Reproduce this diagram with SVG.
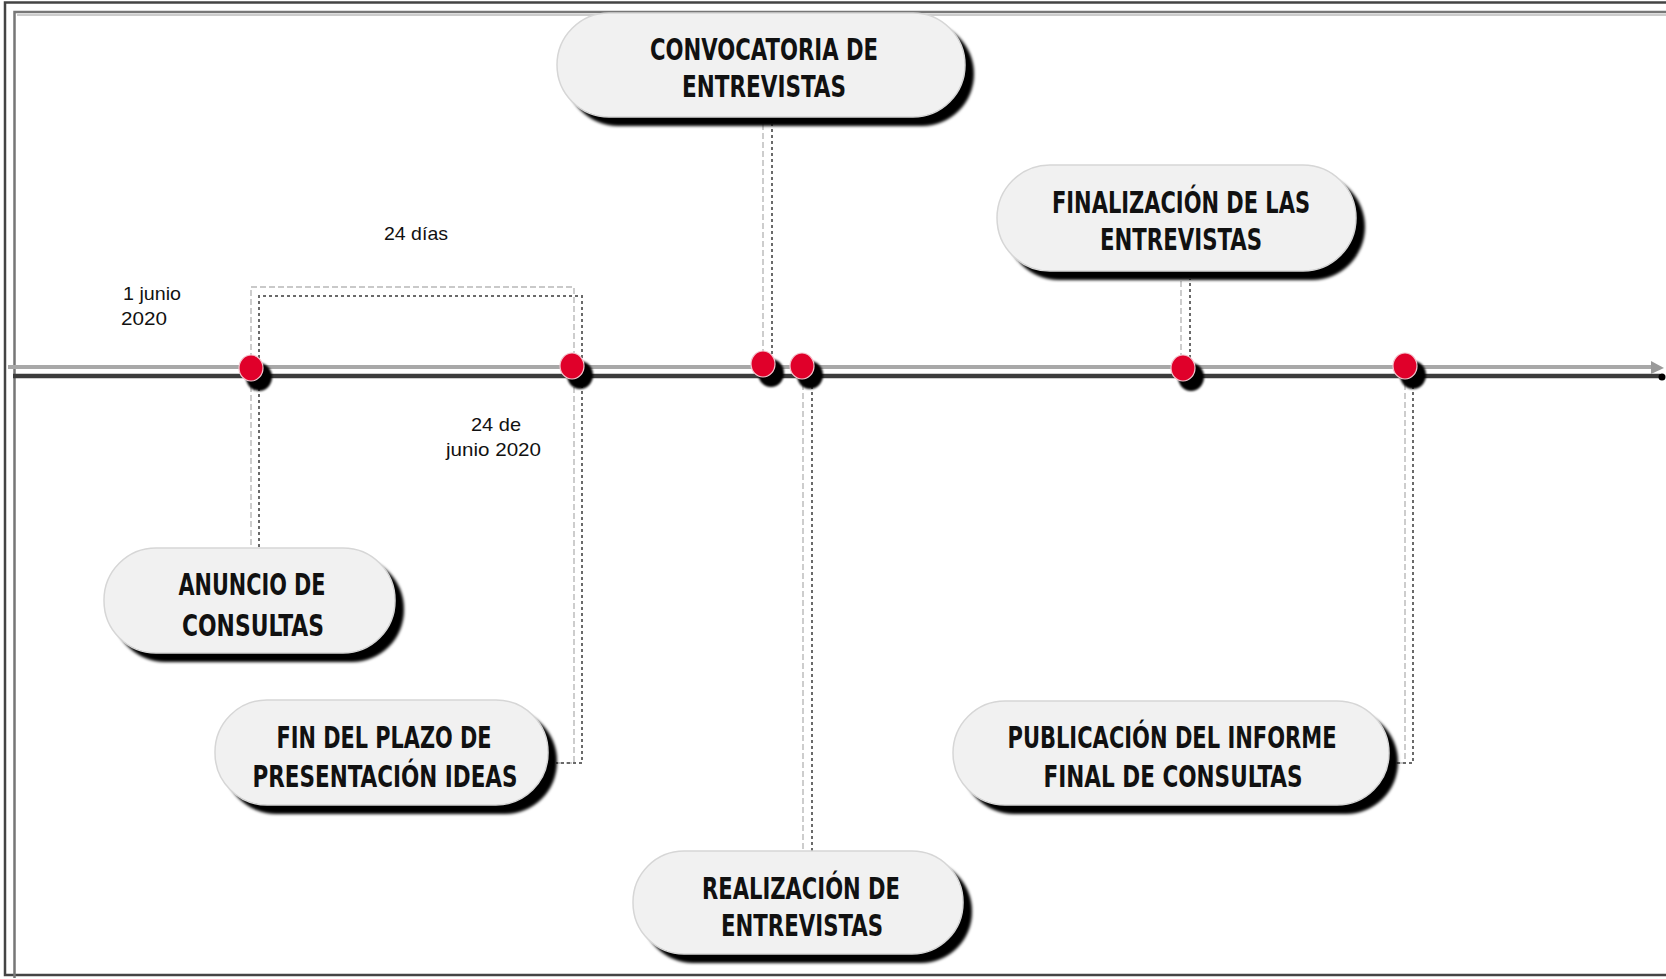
<svg xmlns="http://www.w3.org/2000/svg" width="1666" height="979" viewBox="0 0 1666 979">
<defs>
<filter id="blur" x="-20%" y="-20%" width="140%" height="140%"><feGaussianBlur stdDeviation="1.5"/></filter>
<filter id="blur2" x="-50%" y="-50%" width="200%" height="200%"><feGaussianBlur stdDeviation="1"/></filter>
</defs>
<style>
.pill{fill:#f1f1f1;stroke:#d6d6d6;stroke-width:1.5}
.shadow{fill:#000;filter:url(#blur)}
.t{font-family:"Liberation Sans Narrow","DejaVu Sans Condensed","Liberation Sans",sans-serif;font-weight:bold;font-size:31px;fill:#111;text-anchor:middle}
.s{font-family:"Liberation Sans Narrow","Liberation Sans",sans-serif;font-size:19px;fill:#111}
.dot{fill:#e0002a;stroke:#f3c6cf;stroke-width:1.2}
.dsh{fill:#000;filter:url(#blur2)}
.cl{fill:none;stroke:#b8b8b8;stroke-width:1.4;stroke-dasharray:6 3}
.cd{fill:none;stroke:#6a6a6a;stroke-width:2;stroke-dasharray:3 3}
</style>
<rect width="1666" height="979" fill="#fff"/>
<g id="frame">
<path d="M1666,2.5 H5 V975 H1666" fill="none" stroke="#444" stroke-width="2.5"/>
<path d="M1666,12 H14.5 V978" fill="none" stroke="#777" stroke-width="2.5"/>
<path d="M1666,15 H17" fill="none" stroke="#ccc" stroke-width="2"/>
</g>
<g id="timeline">
<line x1="8" y1="367" x2="1656" y2="367" stroke="#a8a8a8" stroke-width="4"/>
<line x1="13" y1="376" x2="1660" y2="376" stroke="#3c3c3c" stroke-width="4.5"/>
<polygon points="1651,361 1664,368 1651,374" fill="#9a9a9a"/>
<circle cx="1662" cy="377" r="3.5" fill="#000"/>
</g>
<g id="connectors">
<path class="cl" d="M251,368 V287 H574 V763 H556"/>
<path class="cd" d="M259,376 V296 H582 V763 H556"/>
<path class="cl" d="M251,368 V548"/>
<path class="cd" d="M259,376 V548"/>
<path class="cl" d="M763,364 V118"/>
<path class="cd" d="M772,372 V124"/>
<path class="cl" d="M803,366 V851"/>
<path class="cd" d="M812,374 V851"/>
<path class="cl" d="M1181,368 V272"/>
<path class="cd" d="M1190,376 V279"/>
<path class="cl" d="M1405,366 V763 H1392"/>
<path class="cd" d="M1413,374 V763 H1392"/>
</g>
<g id="dots">
<ellipse class="dsh" cx="259" cy="377" rx="13" ry="14"/>
<ellipse class="dot" cx="251" cy="368" rx="12" ry="13"/>
<ellipse class="dsh" cx="580" cy="375" rx="13" ry="14"/>
<ellipse class="dot" cx="572" cy="366" rx="12" ry="13"/>
<ellipse class="dsh" cx="771" cy="373" rx="13" ry="14"/>
<ellipse class="dot" cx="763" cy="364" rx="12" ry="13"/>
<ellipse class="dsh" cx="810" cy="375" rx="13" ry="14"/>
<ellipse class="dot" cx="802" cy="366" rx="12" ry="13"/>
<ellipse class="dsh" cx="1191" cy="377" rx="13" ry="14"/>
<ellipse class="dot" cx="1183" cy="368" rx="12" ry="13"/>
<ellipse class="dsh" cx="1413" cy="375" rx="13" ry="14"/>
<ellipse class="dot" cx="1405" cy="366" rx="12" ry="13"/>
</g>
<g id="n-convocatoria">
<rect class="shadow" x="566" y="22" width="408" height="104" rx="52"/>
<rect class="pill" x="557" y="13" width="408" height="104" rx="52"/>
<text class="t" x="764" y="60" textLength="228" lengthAdjust="spacingAndGlyphs">CONVOCATORIA DE</text>
<text class="t" x="764" y="97" textLength="164" lengthAdjust="spacingAndGlyphs">ENTREVISTAS</text>
</g>
<g id="n-finalizacion">
<rect class="shadow" x="1006" y="174" width="359" height="106" rx="53"/>
<rect class="pill" x="997" y="165" width="359" height="106" rx="53"/>
<text class="t" x="1181" y="213" textLength="258" lengthAdjust="spacingAndGlyphs">FINALIZACIÓN DE LAS</text>
<text class="t" x="1181" y="250" textLength="162" lengthAdjust="spacingAndGlyphs">ENTREVISTAS</text>
</g>
<g id="n-anuncio">
<rect class="shadow" x="113" y="557" width="291" height="105" rx="52"/>
<rect class="pill" x="104" y="548" width="291" height="105" rx="52"/>
<text class="t" x="252" y="595" textLength="147" lengthAdjust="spacingAndGlyphs">ANUNCIO DE</text>
<text class="t" x="253" y="636" textLength="142" lengthAdjust="spacingAndGlyphs">CONSULTAS</text>
</g>
<g id="n-fin-plazo">
<rect class="shadow" x="224" y="709" width="333" height="105" rx="52"/>
<rect class="pill" x="215" y="700" width="333" height="105" rx="52"/>
<text class="t" x="384" y="748" textLength="215" lengthAdjust="spacingAndGlyphs">FIN DEL PLAZO DE</text>
<text class="t" x="385" y="787" textLength="265" lengthAdjust="spacingAndGlyphs">PRESENTACIÓN IDEAS</text>
</g>
<g id="n-publicacion">
<rect class="shadow" x="962" y="710" width="436" height="104" rx="52"/>
<rect class="pill" x="953" y="701" width="436" height="104" rx="52"/>
<text class="t" x="1172" y="748" textLength="329" lengthAdjust="spacingAndGlyphs">PUBLICACIÓN DEL INFORME</text>
<text class="t" x="1173" y="787" textLength="259" lengthAdjust="spacingAndGlyphs">FINAL DE CONSULTAS</text>
</g>
<g id="n-realizacion">
<rect class="shadow" x="642" y="860" width="330" height="103" rx="51"/>
<rect class="pill" x="633" y="851" width="330" height="103" rx="51"/>
<text class="t" x="801" y="899" textLength="198" lengthAdjust="spacingAndGlyphs">REALIZACIÓN DE</text>
<text class="t" x="802" y="936" textLength="162" lengthAdjust="spacingAndGlyphs">ENTREVISTAS</text>
</g>
<g id="labels">
<text class="s" x="384" y="240" textLength="64" lengthAdjust="spacingAndGlyphs">24 días</text>
<text class="s" x="123" y="300" textLength="58" lengthAdjust="spacingAndGlyphs">1 junio</text>
<text class="s" x="121" y="325" textLength="46" lengthAdjust="spacingAndGlyphs">2020</text>
<text class="s" x="471" y="431" textLength="50" lengthAdjust="spacingAndGlyphs">24 de</text>
<text class="s" x="446" y="456" textLength="95" lengthAdjust="spacingAndGlyphs">junio 2020</text>
</g>
</svg>
